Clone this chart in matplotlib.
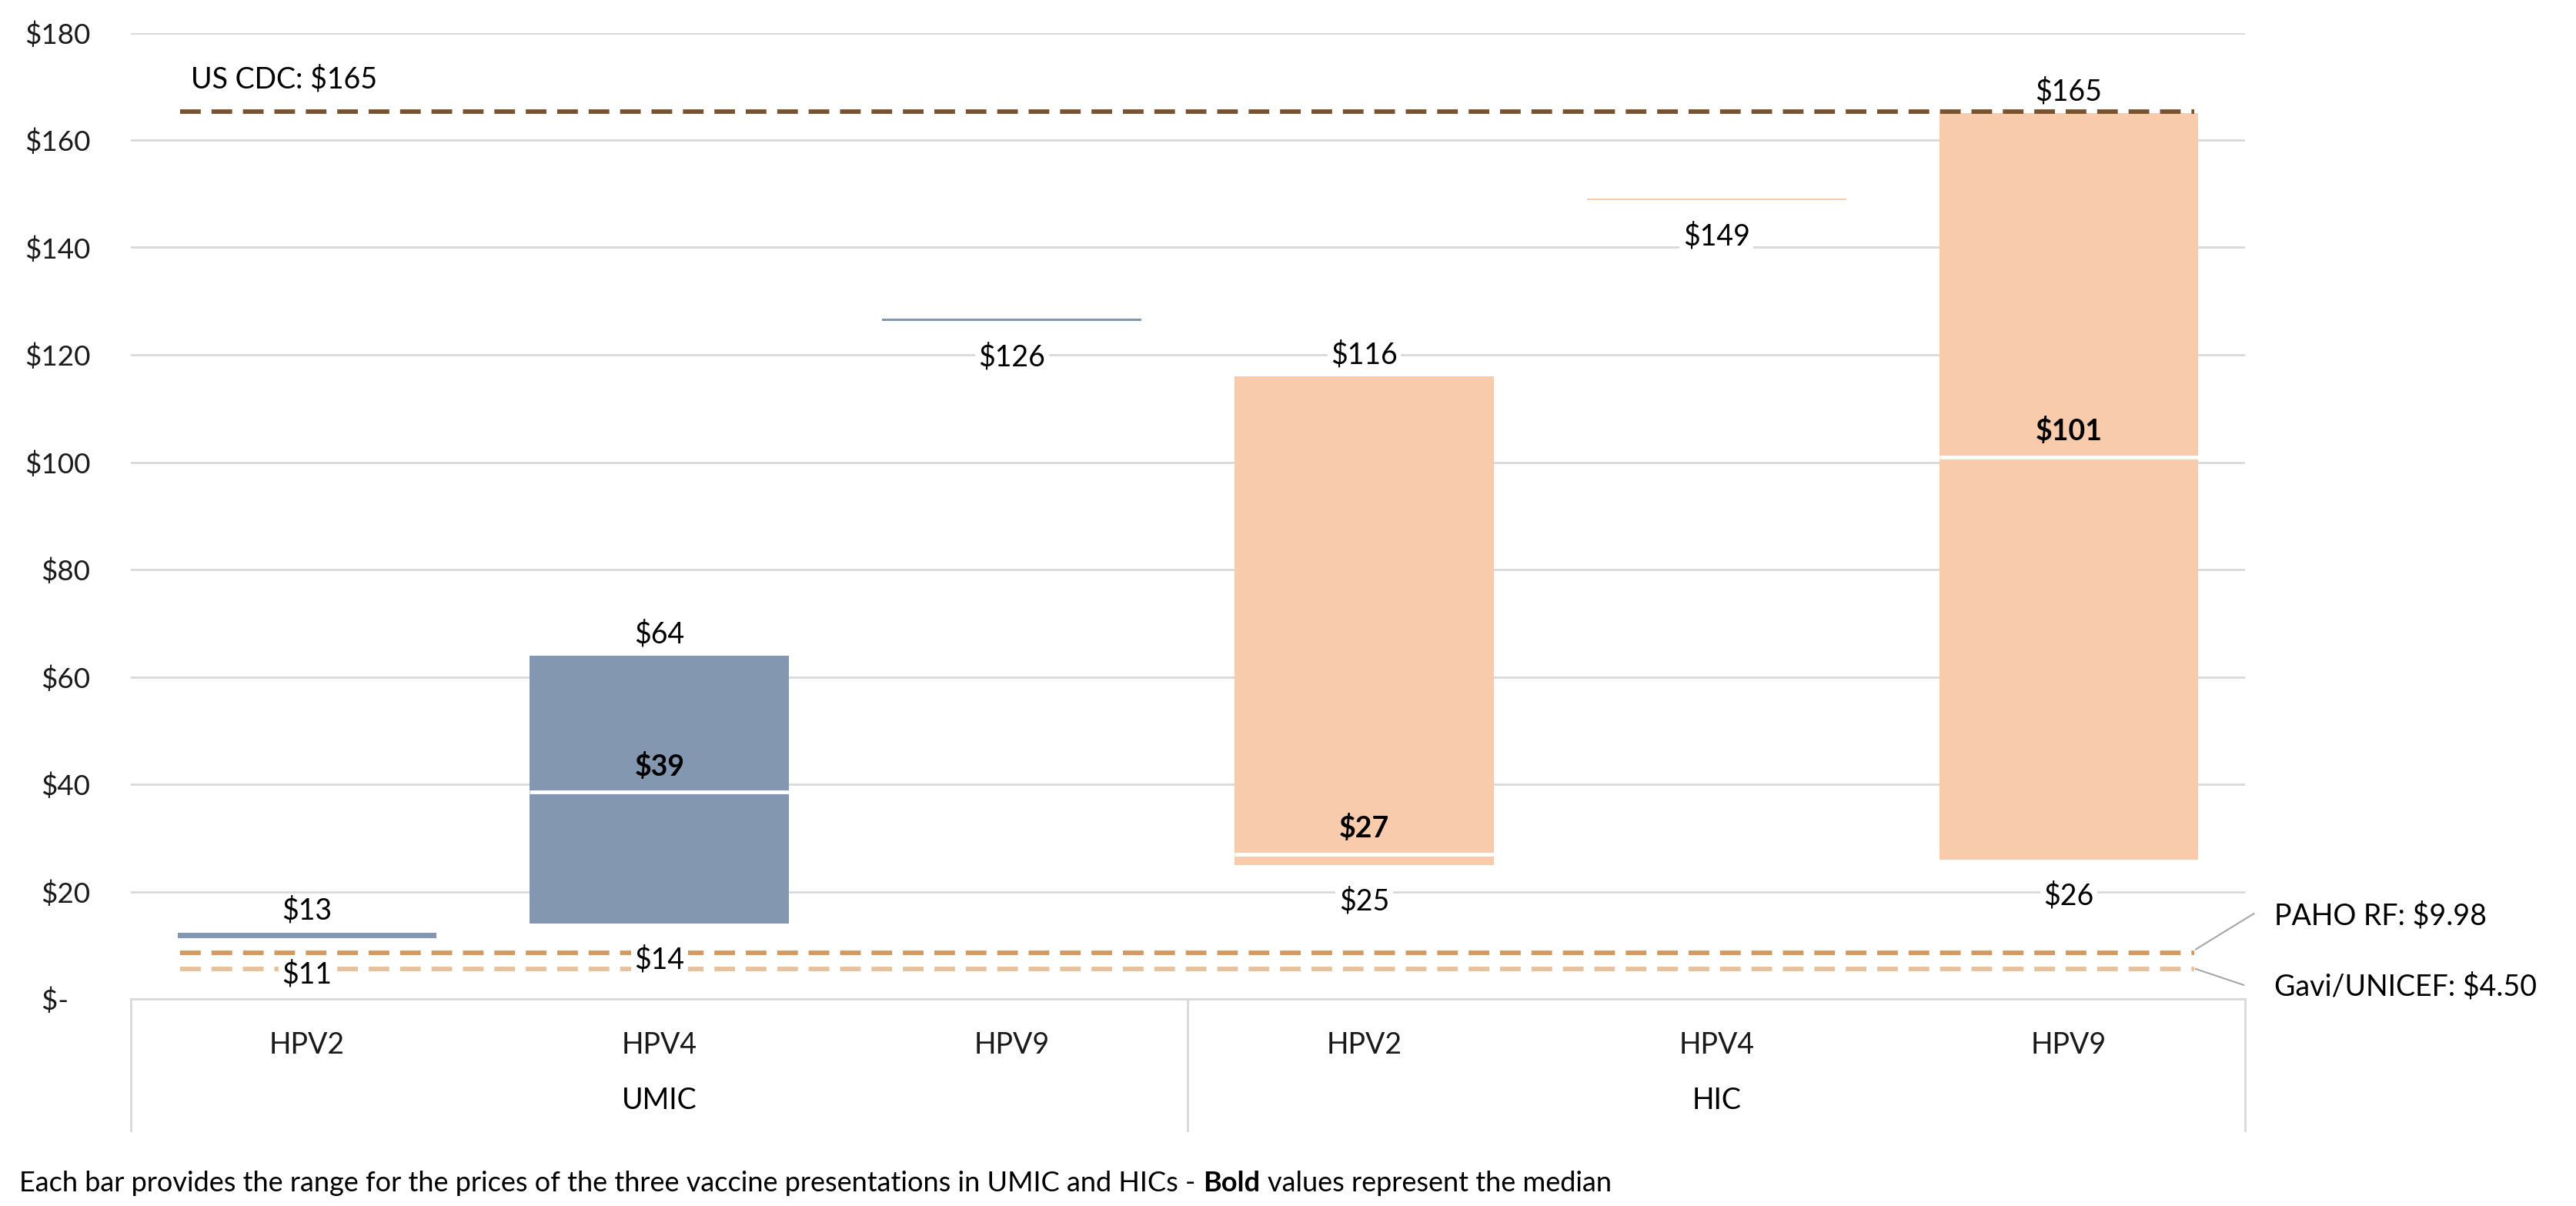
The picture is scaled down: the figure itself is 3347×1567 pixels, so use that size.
import matplotlib
matplotlib.use('Agg')
import matplotlib.pyplot as plt

plt.rcParams['font.family'] = ['Lato', 'DejaVu Sans']

# ---------------- data ----------------
groups = ['UMIC', 'HIC']
vaccines = ['HPV2', 'HPV4', 'HPV9', 'HPV2', 'HPV4', 'HPV9']
group_index = [0, 0, 0, 1, 1, 1]
price_low = [11.3, 14.0, 126.3, 25.0, 148.85, 26.0]
price_high = [12.4, 64.0, 126.8, 116.0, 149.15, 165.0]
price_median = [None, 38.5, None, 27.0, None, 101.0]
low_labels = ['$11', '$14', '$126', '$25', '$149', '$26']
high_labels = ['$13', '$64', None, '$116', None, '$165']
median_labels = [None, '$39', None, '$27', None, '$101']
ref_names = ['US CDC: $165', 'PAHO RF: $9.98', 'Gavi/UNICEF: $4.50']
ref_levels = [165.3, 8.65, 5.6]
y_ticks = [0, 20, 40, 60, 80, 100, 120, 140, 160, 180]
y_tick_labels = ['$-   ', '$20', '$40', '$60', '$80', '$100', '$120', '$140', '$160', '$180']
caption_parts = ['Each bar provides the range for the prices of the three vaccine presentations in UMIC and HICs -',
                 'Bold', 'values represent the median']

# ---------------- style ----------------
group_colors = ['#8497B0', '#F8CBAD']
ref_colors = ['#7A532E', '#D29A62', '#E6C19C']
grid_color = '#D9D9D9'
FS = 27

W, H = 3347, 1567
fig = plt.figure(figsize=(W / 100, H / 100), dpi=100)
L, R, TOP, BOT = 170, 2917, 42.5, 1298
ax = fig.add_axes([L / W, 1 - BOT / H, (R - L) / W, (BOT - TOP) / H])

xs = list(range(1, len(vaccines) + 1))
ax.set_xlim(0.5, len(vaccines) + 0.5)
ax.set_ylim(0, 180)

for s in ['top', 'right', 'left']:
    ax.spines[s].set_visible(False)
ax.spines['bottom'].set_color(grid_color)
ax.spines['bottom'].set_linewidth(2)

ax.set_yticks(y_ticks)
ax.set_yticklabels(y_tick_labels, fontsize=26.5, color='#1a1a1a')
ax.tick_params(axis='y', length=0, pad=38)
ax.grid(axis='y', color=grid_color, linewidth=2, zorder=0)
ax.set_axisbelow(True)

ax.set_xticks(xs)
ax.set_xticklabels(vaccines, fontsize=FS, color='#1a1a1a')
ax.tick_params(axis='x', length=0, pad=30)

# bars
bar_w = 0.735
for x, lo, hi, g in zip(xs, price_low, price_high, group_index):
    ax.bar(x, hi - lo, bottom=lo, width=bar_w, color=group_colors[g], edgecolor='none', zorder=2)

# medians
for x, m in zip(xs, price_median):
    if m is not None:
        ax.hlines(m, x - bar_w / 2, x + bar_w / 2, color='white', linewidth=3.5, zorder=3)

# reference dashed lines
x0, x1 = 0.5 + 0.14, len(vaccines) + 0.5 - 0.145
for lvl, c in zip(ref_levels, ref_colors):
    ax.plot([x0, x1], [lvl, lvl], color=c, linewidth=4.2, dashes=(4.6, 2.4),
            solid_capstyle='butt', dash_capstyle='butt', zorder=4)

box = dict(boxstyle='square,pad=0.12', fc='white', ec='none')
for x, lo, hi, lab_lo, lab_hi in zip(xs, price_low, price_high, low_labels, high_labels):
    if lab_lo:
        ax.annotate(lab_lo, (x, lo), xytext=(0, -34), textcoords='offset points',
                    ha='center', va='center', fontsize=FS, bbox=box, zorder=6)
    if lab_hi:
        ax.annotate(lab_hi, (x, hi), xytext=(0, 20), textcoords='offset points',
                    ha='center', va='center', fontsize=FS, bbox=box, zorder=6)
for x, m, lab in zip(xs, price_median, median_labels):
    if lab:
        ax.annotate(lab, (x, m), xytext=(0, 24), textcoords='offset points',
                    ha='center', va='center', fontsize=FS, fontweight='bold', zorder=6)

# reference labels
ax.text(0.67, 171.3, ref_names[0], ha='left', va='center', fontsize=FS)
ax.plot([x1 + 0.005, 6.525], [ref_levels[1] + 0.6, 15.9], color='#A6A6A6', lw=1.5, clip_on=False)
ax.plot([x1 + 0.005, 6.496], [ref_levels[2], 2.6], color='#A6A6A6', lw=1.5, clip_on=False)
ax.text(6.583, 15.5, ref_names[1], ha='left', va='center', fontsize=FS, clip_on=False)
ax.text(6.583, 2.3, ref_names[2], ha='left', va='center', fontsize=FS, clip_on=False)

# multi-level category axis
for xb in [0.5, 3.5, 6.5]:
    ax.plot([xb, xb], [0, -24.5], color=grid_color, lw=2, clip_on=False)
for gi, gname in enumerate(groups):
    gx = [x for x, g in zip(xs, group_index) if g == gi]
    ax.text(sum(gx) / len(gx), -18.9, gname, ha='center', va='center', fontsize=FS, clip_on=False)

# caption
t1 = fig.text(25 / W, 1 - 1537 / H, caption_parts[0], ha='left', va='center', fontsize=26)
t2 = ax.annotate(caption_parts[1], xy=(1, 0), xycoords=t1, xytext=(7, 0), textcoords='offset points',
                 ha='left', va='bottom', fontsize=26, fontweight='bold', annotation_clip=False)
t3 = ax.annotate(caption_parts[2], xy=(1, 0), xycoords=t2, xytext=(7, 0), textcoords='offset points',
                 ha='left', va='bottom', fontsize=26, annotation_clip=False)

fig.savefig('out.png', dpi=100)
